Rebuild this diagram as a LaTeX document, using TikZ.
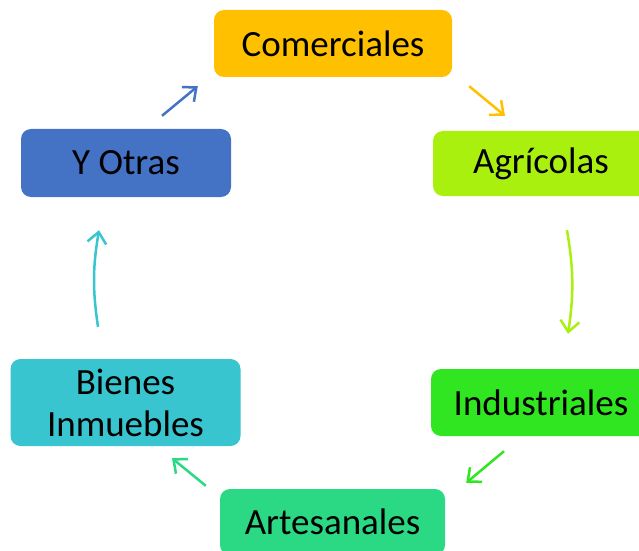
\documentclass[tikz,border=0pt]{standalone}
\usepackage{fontspec}
\setmainfont{Carlito}
\usetikzlibrary{arrows.meta,calc}
\definecolor{cOrange}{HTML}{FFC000}
\definecolor{cLime}{HTML}{A9F00E}
\definecolor{cGreen}{HTML}{30E620}
\definecolor{cMint}{HTML}{2BD984}
\definecolor{cCyan}{HTML}{38C5CF}
\definecolor{cBlue}{HTML}{4472C4}
\tikzset{
  box/.style={rounded corners=10pt, inner sep=0pt, align=center,
    font=\fontsize{37}{42}\selectfont, text=black},
  conn/.style={line width=2.5pt, -{Straight Barb[length=11pt,width=19pt,line width=2.5pt]}},
}
\begin{document}
\begin{tikzpicture}[x=1pt,y=1pt]
\useasboundingbox (0,0) rectangle (639,550);
\node[box, fill=cOrange, minimum width=238pt, minimum height=67pt] (com) at (333,506.5) {Comerciales};
\node[box, fill=cLime, minimum width=216pt, minimum height=65pt] (agr) at (541,386.5) {Agrícolas};
\node[box, fill=cGreen, minimum width=220pt, minimum height=67pt] (ind) at (541,147.5) {Industriales};
\node[box, fill=cMint, minimum width=225pt, minimum height=66pt] (art) at (332.5,28) {Artesanales};
\node[box, fill=cCyan, minimum width=230pt, minimum height=87pt] (bie) at (125.5,147.5) {Bienes\\Inmuebles};
\node[box, fill=cBlue, minimum width=210pt, minimum height=68pt] (otr) at (126,387) {Y Otras};

\draw[conn, cBlue] ($(otr.north)+(36,13)$) -- ($(com.south west)+(-16,-9)$);
\draw[conn, cOrange] ($(com.south east)+(17,-9)$) -- ($(agr.north)+(-36,15)$);
\draw[conn, cLime] ($(agr.south)+(26,-34)$) to[bend left=9] ($(ind.north)+(27,35)$);
\draw[conn, cGreen] ($(ind.south)+(-37,-15)$) -- ($(art.north east)+(21,6)$);
\draw[conn, cMint] ($(art.north west)+(-14,3)$) -- ($(bie.south)+(46.5,-12)$);
\draw[conn, cCyan] ($(bie.north)+(-27.5,32)$) to[bend left=9] ($(otr.south)+(-27,-33)$);
\end{tikzpicture}
\end{document}
